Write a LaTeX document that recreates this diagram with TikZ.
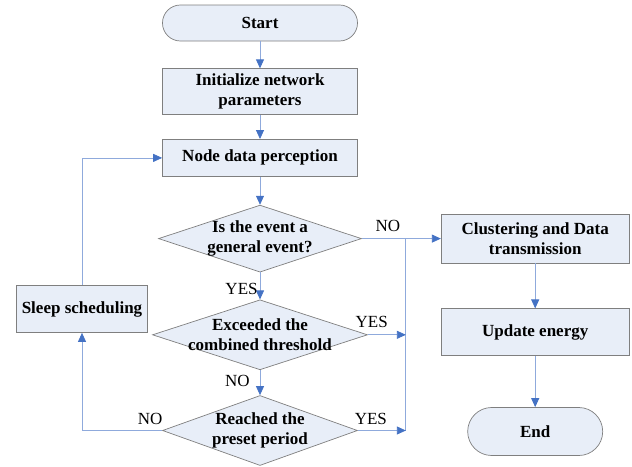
\documentclass[tikz,border=0pt]{standalone}
\usepackage{fontspec}
\setmainfont{Liberation Serif}
\usepackage{tikz}
\usetikzlibrary{arrows.meta,positioning,shapes.geometric,calc}
\definecolor{boxfill}{HTML}{E8EEF8}
\definecolor{boxline}{HTML}{7F7F7F}
\definecolor{linkblue}{HTML}{8FAADC}
\definecolor{tipblue}{HTML}{4472C4}
\tikzset{
    flow box/.style={
        draw=boxline,
        fill=boxfill,
        line width=0.7pt,
        minimum width=195pt,
        align=center,
        font=\fontsize{17}{20}\selectfont\bfseries,
        inner sep=2pt
    },
    flow term/.style={flow box, rounded corners=17.9pt, minimum height=36pt},
    flow dec/.style={
        draw=boxline,
        fill=boxfill,
        line width=0.7pt,
        diamond,
        aspect=3,
        inner sep=-22pt,
        align=center,
        font=\fontsize{17}{20}\selectfont\bfseries
    },
    flow label/.style={font=\fontsize{17}{19}\selectfont, inner sep=2pt},
    flow line/.style={draw=linkblue, line width=0.8pt},
    flow arrow/.style={flow line, -{Triangle[length=9pt,width=8pt,color=tipblue]}}
}
\begin{document}
\begin{tikzpicture}[x=1pt, y=1pt]
\useasboundingbox (0,0) rectangle (632,-466);

% main column
\node[flow term] (start) at (260,-23) {Start};
\node[flow box, below=27pt of start, minimum height=46pt] (init) {Initialize network\\parameters};
\node[flow box, below=24pt of init, minimum height=37pt] (perc) {Node data perception};
\node[flow dec, below=28pt of perc, minimum width=203pt, minimum height=67pt] (dec1) {Is the event a\\general event?};
\node[flow dec, below=27pt of dec1, minimum width=215pt, minimum height=70pt] (dec2) {Exceeded the\\combined threshold};
\node[flow dec, below=25pt of dec2, minimum width=195pt, minimum height=70pt] (dec3) {Reached the\\preset period};

% side boxes
\node[flow box, minimum width=131pt, minimum height=47pt] (sleep) at (82,-309) {Sleep scheduling};
\node[flow box, right=79pt of dec1, minimum width=188pt, minimum height=49pt] (clust) {Clustering and Data\\transmission};
\node[flow box, below=45pt of clust, minimum width=188pt, minimum height=47pt] (upd) {Update energy};
\node[flow term, below=51pt of upd, minimum width=135pt, minimum height=48pt, rounded corners=23.9pt] (end) {End};

\coordinate (mrg) at ([xshift=44pt]dec1.east);

\draw[flow arrow] (start) -- (init);
\draw[flow arrow] (init) -- (perc);
\draw[flow arrow] (perc) -- (dec1);
\draw[flow arrow] (dec1) -- node[flow label, pos=0.6, left] {YES} (dec2);
\draw[flow arrow] (dec2) -- node[flow label, pos=0.45, left=8pt] {NO} (dec3);
\draw[flow arrow] (dec1.east) -- node[flow label, pos=0.33, above=5pt] {NO} (clust.west);
\draw[flow line] (mrg) -- (mrg |- dec3.east);
\draw[flow arrow] (dec2.east) -- node[flow label, pos=0.1, above=5pt] {YES} (dec2.east -| mrg);
\draw[flow arrow] (dec3.east) -- node[flow label, pos=0.27, above=3pt] {YES} (dec3.east -| mrg);
\draw[flow arrow] (dec3.west) -| node[flow label, pos=0.075, above=3pt] {NO} (sleep.south);
\draw[flow arrow] (sleep.north) |- (perc.west);
\draw[flow arrow] (clust) -- (upd);
\draw[flow arrow] (upd) -- (end);
\end{tikzpicture}
\end{document}
